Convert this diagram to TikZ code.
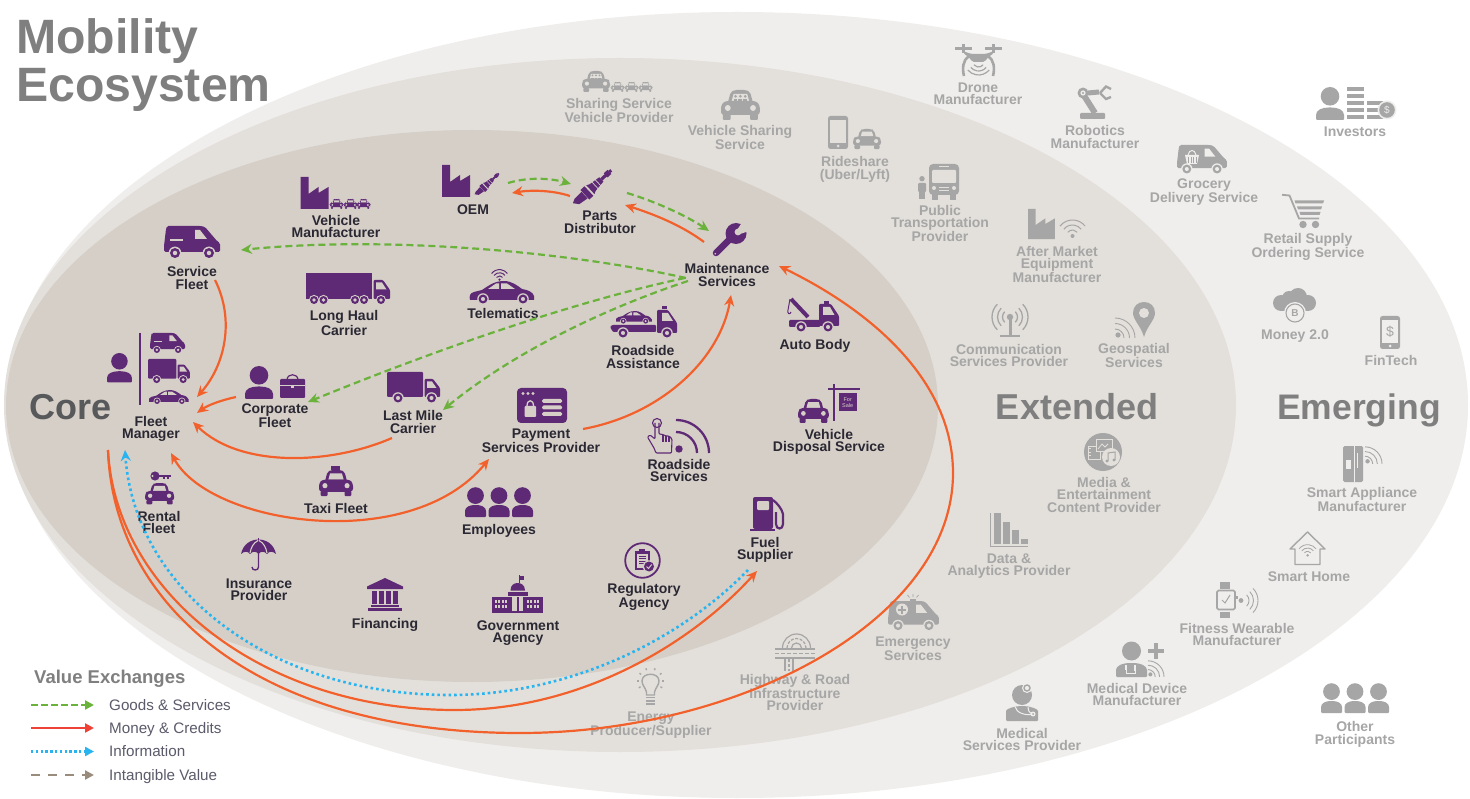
\documentclass[tikz,border=0pt]{standalone}
\usepackage{fontspec}
\setmainfont{Liberation Sans}
\usetikzlibrary{arrows.meta}
\definecolor{purp}{HTML}{5F2A75}
\definecolor{gric}{HTML}{A6A6A6}
\definecolor{outc}{HTML}{EFEEEC}
\definecolor{midc}{HTML}{E3E0DB}
\definecolor{innc}{HTML}{D6CFC8}
\definecolor{labd}{HTML}{2A2833}
\definecolor{orng}{HTML}{F2612B}
\definecolor{grn}{HTML}{6AB23C}
\definecolor{blu}{HTML}{27B4F0}
\definecolor{redl}{HTML}{EF4136}
\definecolor{brn}{HTML}{9A8C7C}
\definecolor{legt}{HTML}{5B5B6B}
\definecolor{ttl}{HTML}{7F7F7F}
\definecolor{cor}{HTML}{58595B}
\colorlet{ic}{purp}
\colorlet{bg}{innc}
\newcommand\whl[3]{\fill[bg] (#1,#2) circle[radius=#3*1.28];\fill[ic] (#1,#2) circle[radius=#3];\fill[bg] (#1,#2) circle[radius=#3*.45];}
\newcommand\arcs[5]{\draw[ic,line width=#5] (#1,#2) ++(#3:#4) arc[start angle=#3,end angle=#3+90,radius=#4];}
\newcommand\vanshape{\fill[ic,rounded corners=1.5] (0,26)--(0,20)--(2,3)--(3,0)--(37,0)--(41,1)--(53,15)--(56,17)--(56,26)--cycle;
 \fill[bg] (31,4)--(36,4)--(43,13)--(31,13)--cycle;\whl{11}{27}{5}\whl{45}{27}{5}}
\newcommand\personshape{\fill[ic] (14,9.3) circle[radius=9.3];\fill[ic,rounded corners=1] (0,33)--(0,29) .. controls (0,23) and (6,20.5) .. (14,20.5) .. controls (22,20.5) and (28,23) .. (28,29)--(28,33)--cycle;}
\newcommand\carshape{\fill[ic,rounded corners=2] (7,13)--(10,2)--(14,0)--(26,0)--(30,2)--(33,13)--cycle;
   \fill[bg] (11,11)--(13,4)--(27,4)--(29,11)--cycle;
   \fill[ic,rounded corners=3] (0,25)--(0,15)--(4,11)--(36,11)--(40,15)--(40,25)--cycle;
   \fill[ic,rounded corners=1] (2,24) rectangle (10,30);\fill[ic,rounded corners=1] (30,24) rectangle (38,30);
   \fill[bg] (7,18) circle[radius=3];\fill[bg] (33,18) circle[radius=3];}
\tikzset{
 x=1pt,y=-1pt,
 lab/.style={font=\bfseries\fontsize{14}{12.5}\selectfont,align=center,inner sep=0pt,text=labd},
 glab/.style={lab,text=gric},
 big/.style={font=\bfseries\fontsize{36}{36}\selectfont,inner sep=0pt,anchor=base},
 legtxt/.style={font=\fontsize{15.2}{15}\selectfont,text=legt,inner sep=0pt,anchor=base west},
 goods/.style={grn,line width=2.2pt,dash pattern=on 7pt off 4pt,-{Stealth[length=11pt,width=10pt]}},
 money/.style={orng,line width=2.2pt,-{Stealth[length=11pt,width=10pt]}},
 info/.style={blu,line width=2.6pt,dash pattern=on 2.6pt off 3pt,-{Stealth[length=11pt,width=10pt]}},
 pics/factory/.style={code={\fill[ic] (0,0)--(8,0)--(8,17)--(18,10)--(18,16)--(28,10)--(28,32)--(0,32)--cycle;}},
 pics/van/.style={code={\vanshape\fill[bg] (6,13) rectangle (19,15);}},
 pics/boxtruck/.style={code={\fill[ic,rounded corners=1] (0,0) rectangle (36,25);
   \fill[ic,rounded corners=1] (37.5,7)--(46,7)--(53,16)--(53,25)--(37.5,25)--cycle;
   \fill[bg] (40,9.5)--(45,9.5)--(49.5,16)--(40,16)--cycle;\whl{11}{26}{4.5}\whl{44.5}{26}{4.5}}},
 pics/longtruck/.style={code={\fill[ic] (0,0) rectangle (66,26);
   \fill[ic,rounded corners=1] (67.5,7)--(77,7)--(84,17)--(84,26)--(67.5,26)--cycle;
   \fill[bg] (70,9.5)--(76,9.5)--(80.5,16.5)--(70,16.5)--cycle;
   \whl{8}{27}{4}\whl{17.5}{27}{4}\whl{49}{27}{4}\whl{58}{27}{4}\whl{75}{27}{4}}},
 pics/sedan/.style={code={\fill[ic] (0,19) .. controls (-1,15) and (0,12) .. (4,11)--(12,9) .. controls (18,5) and (24,0) .. (34,0) .. controls (42,0) and (48,5) .. (52,8) .. controls (58,9) and (63,11) .. (64,15)--(64,19)--cycle;
   \fill[bg] (18,8)--(26,2.5)--(29,2.5)--(29,8)--cycle;\fill[bg] (31,2.5)--(37,2.5)--(45,8)--(31,8)--cycle;\whl{13}{18}{4.5}\whl{53}{18}{4.5}}},
 pics/carf/.style={code={\carshape}},
 pics/carp/.style={code={\carshape
   \foreach \u in {15,20,25}{\fill[ic] (\u,6.3) circle[radius=1.5];\fill[ic] (\u-2,11)--(\u-2,9.5)--(\u+2,9.5)--(\u+2,11)--cycle;}}},
 pics/plug/.style={code={\begin{scope}[shift={(0,33)},rotate=43]
   \fill[ic] (-1,-2)--(3,-4)--(13,-4.5)--(13,4.5)--(3,3)--cycle;
   \fill[ic] (13.5,-6.5) rectangle (19,6.5);
   \fill[ic] (21,-6)--(24,-4.5)--(36,-3)--(36,3)--(24,4.5)--(21,6)--cycle;
   \fill[ic] (36,-1.6) rectangle (45,1.6);\fill[ic] (42,-2.8) rectangle (47,2.8);\fill[ic] (47,-1.5) rectangle (49.5,1.5);
   \foreach \u in {27,31}{\fill[bg] (\u,-5) rectangle (\u+.7,5);}
   \end{scope}}},
 pics/wrench/.style={code={\draw[ic,line width=6.5pt,line cap=round] (4,30)--(20,14);
   \fill[ic] (24,10.5) circle[radius=10.5];\fill[bg] (25,7)--(31,-2)--(37,-2)--(37,8)--(28,11)--cycle;\fill[bg] (26,9) circle[radius=3.4];
   \fill[bg] (3.2,30.8) circle[radius=.9];}},
 pics/person/.style={code={\personshape}},
 pics/briefcase/.style={code={\draw[ic,line width=1.2pt] (7,6) .. controls (7,-1) and (18,-1) .. (18,6);
   \fill[ic,rounded corners=1] (0,5) rectangle (25,24);\fill[bg] (0,11.5) rectangle (25,12.3);\fill[bg] (11,11) rectangle (14,14);}},
 pics/flatbed/.style={code={\pic[scale=.56] at (6,5) {sedan};
   \fill[ic,rounded corners=1] (0,21)--(2,19)--(46,19)--(46,26)--(3,26)--cycle;
   \fill[ic,rounded corners=1] (47,4)--(58,4)--(67,17)--(67,27)--(47,27)--cycle;\fill[ic] (52,0) rectangle (57,3);
   \fill[bg] (52,7)--(58,7)--(63,15)--(52,15)--cycle;\whl{13}{27}{4.5}\whl{57}{27}{4.5}}},
 pics/towtruck/.style={code={\draw[ic,line width=4pt] (4,1)--(21,19);\draw[ic,line width=1pt] (3,1)--(1,12) .. controls (0,16) and (3,17) .. (4,14);
   \fill[ic,rounded corners=1] (32,6)--(44,6)--(52,18)--(52,28)--(32,28)--cycle;\fill[ic] (37,3) rectangle (42,6);\fill[bg] (36,9)--(43,9)--(47.5,17)--(36,17)--cycle;
   \fill[ic,rounded corners=1] (2,22) rectangle (33,29);\whl{14}{29}{4.5}\whl{41}{29}{4.5}}},
 pics/payment/.style={code={\fill[ic,rounded corners=4] (0,0) rectangle (50,35);
   \foreach \u in {6,11,16}{\fill[bg] (\u,5.5) circle[radius=1.6];}
   \fill[bg,rounded corners=1] (7.5,18) rectangle (19,29);\draw[bg,line width=1.3pt] (10,18) .. controls (10,11) and (16.5,11) .. (16.5,18);
   \foreach \u in {11,17.5,24}{\fill[bg,rounded corners=1.5] (25,\u) rectangle (45,\u+4);}}},
 pics/handsig/.style={code={\draw[ic,line width=1.1pt] (10,5) circle[radius=4.5];
   \draw[ic,line width=1.1pt,line join=round,rounded corners=1] (8,5)--(8,21)--(3,17)--(0.5,19)--(7,30)--(9,35)--(24.5,35)--(25,21)--(22,18)--(19,18)--(16,16.5)--(12,16)--(12,5);
   \draw[ic,line width=1.1pt] (16,16.5)--(16,24) (19,18)--(19,24) (22,18)--(22,24);
   \fill[ic] (32,31) circle[radius=3.7];
   \arcs{29}{35}{270}{33}{2.3pt}\arcs{29}{35}{270}{21}{2.3pt}}},
 pics/forsale/.style={code={\fill[ic] (5.2,0) rectangle (7.2,37.5);\fill[ic] (0,4.5) rectangle (32,6.5);\fill[ic] (11,9.5) rectangle (28.5,27.5);
   \node[font=\fontsize{5.5}{6}\selectfont,text=bg,align=center,inner sep=0pt] (forsale) at (19.7,18.5) {For\\Sale};}},
 pics/three/.style={code={\foreach \u in {0,23.5,47}{\begin{scope}[shift={(\u,0)}]\fill[ic] (10.5,8.6) circle[radius=8.4];
   \fill[ic,rounded corners=1] (0,30)--(0,25) .. controls (0,20) and (5,18) .. (10.5,18) .. controls (16,18) and (21,20) .. (21,25)--(21,30)--cycle;\end{scope}}}},
 pics/fuel/.style={code={\fill[ic,rounded corners=2] (3,0)--(23,0)--(23,32)--(3,32)--cycle;\fill[ic] (0,32) rectangle (25,34);
   \fill[bg,rounded corners=1] (7,4) rectangle (19,13);
   \draw[ic,line width=2.2pt] (23,3) .. controls (27,6) and (32,12) .. (33,17)--(33,27) .. controls (33,33) and (26,33) .. (26,27)--(26,15);}},
 pics/umbrella/.style={code={\fill[ic] (0,16) .. controls (2,6) and (10,1.5) .. (17.5,1.5) .. controls (25,1.5) and (33,6) .. (35,16) .. controls (32,13) and (28,13) .. (26,16) .. controls (23,13) and (20,13) .. (17.5,16) .. controls (15,13) and (12,13) .. (9,16) .. controls (7,13) and (3,13) .. (0,16)--cycle;
   \fill[ic] (16.9,0) rectangle (18.1,3);
   \draw[bg,line width=1.1pt] (17,2.5) .. controls (12,5) and (10,10) .. (9,15) (18,2.5) .. controls (23,5) and (25,10) .. (26,15);
   \draw[ic,line width=1.4pt] (17.5,15)--(17.5,29) .. controls (17.5,33) and (11,33) .. (11,29);}},
 pics/bank/.style={code={\fill[ic] (18,0)--(36,8.5)--(36,11)--(0,11)--(0,8.5)--cycle;
   \foreach \u in {5,12,19,26}{\fill[ic] (\u,12.5) rectangle (\u+4.6,26);}
   \fill[ic] (4,27) rectangle (32,29);\fill[ic] (1,30) rectangle (35,33);}},
 pics/gov/.style={code={\fill[ic] (27,0) rectangle (27.8,8);\fill[ic] (27.8,.7) rectangle (32,4.5);
   \fill[ic] (18.5,15.5) .. controls (18.5,10) and (22,8) .. (25.7,8) .. controls (29,8) and (33,10) .. (33,15.5)--cycle;
   \fill[ic] (16,16.5) rectangle (36,20.5);\fill[ic] (0,21.5) rectangle (51,38);
   \foreach \u in {2.5,6,9.5,13,34.5,38,41.5,45}{\foreach \v in {24.5,30}{\fill[bg] (\u,\v) rectangle (\u+2,\v+3);}}
   \fill[bg] (20,22) rectangle (25,36);\fill[bg] (27,22) rectangle (31,36);}},
 pics/reg/.style={code={\draw[ic,line width=1.8pt] (18,18) circle[radius=17.3];
   \fill[ic] (10,8) rectangle (25,27);\fill[bg] (12,11) rectangle (23,25);\fill[ic] (14.5,6) rectangle (20.5,10);
   \foreach \u in {13,15.5,18,20.5}{\fill[ic] (14,\u) rectangle (21,\u+1);}
   \fill[bg] (24.5,24) circle[radius=6.2];\fill[ic] (24.5,24) circle[radius=5];\draw[bg,line width=1pt] (22,24)--(24,26)--(27.2,22);}},
 pics/phone/.style={code={\fill[ic,rounded corners=2.5] (0,0) rectangle (20,33);\fill[bg] (2,4) rectangle (18,27);\fill[bg] (10,30) circle[radius=1.5];}},
 pics/bus/.style={code={\fill[ic] (3,28) rectangle (9,36);\fill[ic] (21,28) rectangle (27,36);\fill[ic,rounded corners=4] (0,0) rectangle (30,31);
   \fill[bg,rounded corners=1] (3,6) rectangle (27,19);\fill[bg] (10,2) rectangle (20,3.5);\fill[bg] (5,24) circle[radius=2];\fill[bg] (25,24) circle[radius=2];\fill[bg] (10,23) rectangle (20,24);\fill[bg] (10,26) rectangle (20,27);}},
 pics/minip/.style={code={\fill[ic] (4,2.7) circle[radius=2.7];\fill[ic,rounded corners=1] (0,7) rectangle (8,16);\fill[ic] (1.2,15) rectangle (6.8,23);}},
 pics/wifi/.style={code={\fill[ic] (13.5,17) circle[radius=2];\foreach \r in {6,11,16}{\draw[ic,line width=1pt] (13.5,17) ++(218:\r) arc[start angle=218,end angle=322,radius=\r];}}},
 pics/sig/.style={code={\fill[ic] (3,18) circle[radius=2.6];\arcs{0}{21}{270}{9}{.9pt}\arcs{0}{21}{270}{14.5}{.9pt}\arcs{0}{21}{270}{20}{.9pt}}},
 pics/antenna/.style={code={\fill[ic] (16.5,15) rectangle (19.5,33);\fill[ic] (18,15) circle[radius=3.2];\fill[ic] (8,33) rectangle (28,35.5);
   \foreach \r in {7.5,12.5,18}{\draw[ic,line width=1.3pt] (18,15) ++(-45:\r) arc[start angle=-45,end angle=45,radius=\r];\draw[ic,line width=1.3pt] (18,15) ++(135:\r) arc[start angle=135,end angle=225,radius=\r];}}},
 pics/pin/.style={code={\fill[ic] (11,35) .. controls (8,24) and (0,18) .. (0,11) .. controls (0,4) and (5,0) .. (11,0) .. controls (17,0) and (22,4) .. (22,11) .. controls (22,18) and (14,24) .. (11,35)--cycle;\fill[bg] (11,11) circle[radius=5];}},
 pics/media/.style={code={\fill[ic] (19,19) circle[radius=19];
   \draw[bg,line width=.9pt] (4,13) rectangle (16,26);\foreach \u in {15.5,19,22.5}{\draw[bg,line width=.7pt] (4,\u)--(7,\u);}
   \fill[ic] (12,6) rectangle (28,18);\draw[bg,line width=1pt] (12,6) rectangle (28,18);\draw[bg,line width=.8pt] (14,16)--(18,11)--(21,14)--(24,11);
   \fill[bg] (27,24) circle[radius=9];\draw[ic,line width=1pt] (24,28)--(24,20)--(31,19)--(31,27);\fill[ic] (23,28) circle[radius=1.7];\fill[ic] (30,27) circle[radius=1.7];}},
 pics/bars/.style={code={\fill[ic] (4,0) rectangle (11,31);\fill[ic] (13,9) rectangle (20,31);\fill[ic] (22,17) rectangle (28.5,31);\fill[ic] (31,26) rectangle (38,31);\fill[ic] (0,0) rectangle (1,34);\fill[ic] (0,33) rectangle (38,34);}},
 pics/ambulance/.style={code={\begin{scope}[shift={(0,8)},scale=.91]\vanshape\end{scope}
   \fill[bg] (14,16.5) circle[radius=6];\fill[ic] (13,12.5) rectangle (15,20.5);\fill[ic] (10,15.5) rectangle (18,17.5);
   \fill[ic] (22,5.5) rectangle (28,8);\draw[ic,line width=.7pt] (25,4)--(25,1) (21.5,4.5)--(19.5,2) (28.5,4.5)--(30.5,2);}},
 pics/highway/.style={code={\draw[ic,line width=1.2pt] (21.5,15) ++(180:14) arc[start angle=180,end angle=360,radius=14];
   \draw[ic,line width=1.2pt,dash pattern=on 3pt off 1.5pt] (21.5,15) ++(180:9.5) arc[start angle=180,end angle=360,radius=9.5];
   \draw[ic,line width=1.2pt] (21.5,15) ++(180:5) arc[start angle=180,end angle=360,radius=5];
   \draw[ic,line width=1.2pt] (0,16)--(40,16) (0,25)--(40,25);\draw[ic,line width=1.2pt,dash pattern=on 4pt off 2pt] (0,20.5)--(40,20.5);
   \draw[ic,line width=1.2pt] (10,26)--(10,38) (18,26)--(18,38);\draw[ic,line width=1.2pt,dash pattern=on 3pt off 2pt] (14,26)--(14,38);}},
 pics/bulb/.style={code={\draw[ic,line width=1.4pt] (9.5,24) .. controls (8,19) and (5,17) .. (5,13) .. controls (5,4) and (22,4) .. (22,13) .. controls (22,17) and (19,19) .. (17.5,24)--(17.5,27)--(9.5,27)--cycle;
   \foreach \u in {28.8,32,35.2}{\fill[ic] (9,\u) rectangle (18,\u+1.5);}
   \foreach \a in {180,215,250,290,325,360}{\draw[ic,line width=1.4pt] (13.5,13) ++(\a:11.5) -- ++(\a:2);}
   \draw[ic,line width=1.4pt] (13.5,13) ++(150:11.5) -- ++(150:2) (13.5,13) ++(30:11.5) -- ++(30:2);}},
 pics/drone/.style={code={\fill[ic] (0,4) rectangle (17,7);\fill[ic] (30,4) rectangle (47,7);\fill[ic] (7,1) rectangle (10,10);\fill[ic] (37,1) rectangle (40,10);
   \fill[ic,rounded corners=2] (8,8)--(16,11)--(31,11)--(39,8)--(39,10)--(32,15)--(30,19)--(17,19)--(15,15)--(8,10)--cycle;
   \draw[ic,line width=2.6pt] (14,13) .. controls (8,17) and (7,25) .. (9,33) (33,13) .. controls (39,17) and (40,25) .. (38,33);
   \foreach \r in {6,10,14}{\draw[ic,line width=1.2pt] (23.5,18) ++(40:\r) arc[start angle=40,end angle=140,radius=\r];}}},
 pics/robot/.style={code={\fill[ic,rounded corners=1] (2,28) rectangle (27,34);\draw[ic,line width=6pt] (5,9)--(17,28);
   \fill[ic] (5,8) circle[radius=5.5];\fill[bg] (5,8) circle[radius=2.6];\fill[ic] (5,8) circle[radius=1.2];
   \draw[ic,line width=5pt] (10,8)--(21,7);
   \draw[ic,line width=2.4pt] (22,8)--(28,1.5)--(33,4) (22,8)--(28,14)--(33,12);}},
 pics/grocery/.style={code={\begin{scope}[scale=.89]\vanshape\end{scope}
   \fill[bg] (8,10)--(22,10)--(20,19)--(10,19)--cycle;\draw[bg,line width=1pt] (11,10) .. controls (12,4) and (18,4) .. (19,10);
   \foreach \u in {11.5,14,16.5,19}{\draw[ic,line width=.6pt] (\u,12)--(\u,18);}}},
 pics/cart/.style={code={\draw[ic,line width=1.8pt] (0,.8)--(7.5,1.5)--(17,24.5)--(37,24.5);
   \fill[ic] (12.5,6.5)--(42,6.5)--(41,9.5)--(13.5,9.5)--cycle;\fill[ic] (15,12.5)--(40,12.5)--(39,15.5)--(16,15.5)--cycle;\fill[ic] (17.5,18)--(38.5,18)--(37.5,21)--(18.5,21)--cycle;
   \fill[ic] (21,30.5) circle[radius=3.7];\fill[ic] (33.5,30.5) circle[radius=3.7];}},
 pics/stacks/.style={code={\foreach \u in {0,7,14,21,28}{\fill[ic] (0,\u) rectangle (17,\u+4.5);}\foreach \u in {14,21,28}{\fill[ic] (20,\u) rectangle (36,\u+4.5);}
   \fill[bg] (40,23) circle[radius=9.5];\fill[ic] (40,23) circle[radius=7.8];
   \node[font=\fontsize{10}{10}\selectfont,text=bg,inner sep=0pt] (dollar) at (40,23) {\$};}},
 pics/cloud/.style={code={\fill[ic] (8,15) circle[radius=8];\fill[ic] (16,10) circle[radius=7];\fill[ic] (25,9) circle[radius=9];\fill[ic] (35,15) circle[radius=8];\fill[ic] (8,13) rectangle (35,23);
   \fill[bg] (22,25) circle[radius=11];\draw[ic,line width=1.1pt] (22,25) circle[radius=9];
   \node[font=\bfseries\fontsize{10}{10}\selectfont,text=ic,inner sep=0pt] (btc) at (22,25) {B};}},
 pics/fintel/.style={code={\pic {phone};\node[font=\fontsize{14}{14}\selectfont,text=ic,inner sep=0pt] (fdollar) at (10,15.5) {\$};}},
 pics/fridge/.style={code={\fill[ic,rounded corners=1.5] (0,0) rectangle (20,36);\fill[bg] (11,0) rectangle (11.8,36);\fill[bg] (3,14) rectangle (8,23);\fill[bg] (13.5,7) rectangle (14.3,22);}},
 pics/home/.style={code={\draw[ic,line width=1.4pt,line join=round] (5,33.5)--(30,33.5)--(30,18)--(35,18)--(17.5,1)--(0,18)--(5,18)--cycle;
   \begin{scope}[shift={(8.5,13)},scale=.67]\fill[ic] (13.5,17) circle[radius=2];\foreach \r in {6,11,16}{\draw[ic,line width=.8pt] (13.5,17) ++(218:\r) arc[start angle=218,end angle=322,radius=\r];}\end{scope}}},
 pics/watch/.style={code={\fill[ic] (4,0) rectangle (14,7);\fill[ic] (4,30) rectangle (14,36);\draw[ic,line width=1.7pt,rounded corners=1.5] (1,8.5) rectangle (19,27.5);\fill[ic] (20,13.5) rectangle (22,17);
   \draw[ic,line width=1pt] (6,18)--(9,21)--(14,13);\fill[ic] (25,18.5) circle[radius=2.4];
   \foreach \r in {8,12.5,17}{\draw[ic,line width=.9pt] (25,18.5) ++(-45:\r) arc[start angle=-45,end angle=45,radius=\r];}}},
 pics/doctor/.style={code={\fill[ic] (15.5,9) circle[radius=9.5];\fill[ic,rounded corners=1] (0,35)--(0,29) .. controls (0,24) and (6,21) .. (15.5,21) .. controls (25,21) and (31,24) .. (31,29)--(31,35)--cycle;
   \fill[bg] (9,23) rectangle (11,28);\fill[bg] (18,23) rectangle (20,29);\draw[bg,line width=.7pt] (10,28)--(10,31)--(19,31)--(19,29);}},
 pics/medic/.style={code={\fill[ic] (16,12) circle[radius=10];\fill[bg] (21,5) circle[radius=5];\draw[ic,line width=1.4pt] (21,5) circle[radius=3];
   \fill[ic,rounded corners=1] (0,38)--(0,29) .. controls (0,26) and (8,23) .. (16,23) .. controls (24,23) and (32,26) .. (32,29)--(32,38)--cycle;
   \draw[bg,line width=1pt] (9,23.5) .. controls (10,30) and (20,33) .. (27,31) (22,24) .. controls (22,27) and (22,29) .. (27,31);\fill[bg] (27,31) circle[radius=2.5];\fill[ic] (27,31) circle[radius=1];}},
 pics/keyic/.style={code={\fill[ic] (6,5) circle[radius=4.6];\fill[bg] (3.5,5) circle[radius=1.2];\fill[ic] (8,3.7) rectangle (22,6);\fill[ic] (14,5) rectangle (16,8);\fill[ic] (18,5) rectangle (20,8);}},
 pics/plus/.style={code={\fill[ic] (6,0) rectangle (9.5,15.5);\fill[ic] (0,6) rectangle (15.5,9.5);}},
}
\begin{document}
\begin{tikzpicture}
\useasboundingbox (0,0) rectangle (1470,799);
\fill[white] (0,0) rectangle (1470,799);
\fill[outc] (737,405) ellipse[x radius=731,y radius=393];
\fill[midc] (620,405) ellipse[x radius=616,y radius=347];
\fill[innc] (472,406) ellipse[x radius=466,y radius=276];

\node[font=\bfseries\fontsize{48.2}{48}\selectfont,text=ttl,inner sep=0pt,align=left,anchor=north west] (title) at (16,18.5) {Mobility\\Ecosystem};
\node[big,text=cor] (core) at (71,420) {Core};
\node[big,text=ttl] (extended) at (1077,420) {Extended};
\node[big,text=ttl,font=\bfseries\fontsize{35.5}{36}\selectfont] (emerging) at (1359,420) {Emerging};

% ---- core icons
\pic at (164,226) {van};
\pic at (300.5,177) {factory};
\foreach \u in {330,344,357}{\pic[scale=.33] at (\u,199) {carf};}
\pic at (442,165) {factory};
\pic[scale=.63] at (476,174) {plug};
\pic at (575,171) {plug};
\pic at (712,223) {wrench};
\pic at (306,273) {longtruck};
\pic at (470,281) {sedan};
\pic[scale=.63] at (491,269) {wifi};
\pic at (610,306) {flatbed};
\pic at (787,298) {towtruck};
\pic[scale=.89] at (107,353) {person};
\fill[purp] (139,333) rectangle (141.2,405);
\pic[scale=.625] at (150,333) {van};
\pic[scale=.79] at (148,359) {boxtruck};
\pic[scale=.62] at (149,390) {sedan};
\pic at (245,366) {person};
\pic at (280,374) {briefcase};
\pic at (387,372) {boxtruck};
\pic at (517,388) {payment};
\pic at (647,418) {handsig};
\pic[xscale=.77,yscale=.8] at (798,399) {carf};
\pic at (828,384) {forsale};
\fill[purp] (331,465.5) rectangle (340,470);
\pic[xscale=.85,yscale=.87] at (319,470) {carf};
\pic at (149,471) {keyic};
\pic[xscale=.73,yscale=.71] at (145,483) {carf};
\pic at (465,487) {three};
\pic at (750,497) {fuel};
\pic at (241,538) {umbrella};
\pic at (367,578) {bank};
\pic at (492,575) {gov};
\pic at (624.5,542.5) {reg};

% ---- extended icons
\begin{scope}
\colorlet{ic}{gric}\colorlet{bg}{midc}
\pic[xscale=.7,yscale=.7] at (582,71) {carp};
\foreach \u in {611,625,639}{\pic[scale=.33] at (\u,82) {carf};}
\pic[xscale=.97] at (721,90) {carp};
\pic at (828,116) {phone};
\pic[xscale=.7,yscale=.67] at (853,129) {carf};
\pic at (918,176) {minip};
\pic at (929,164) {bus};
\pic[xscale=.96,yscale=.94] at (1028,209) {factory};
\pic at (1059,219) {wifi};
\pic at (992,302) {antenna};
\pic at (1115,317) {sig};
\pic at (1133,302) {pin};
\pic at (1084,433) {media};
\pic at (990,513) {bars};
\pic at (888,593) {ambulance};
\pic at (775,633) {highway};
\pic at (637,668) {bulb};
\end{scope}

% ---- emerging icons
\begin{scope}
\colorlet{ic}{gric}\colorlet{bg}{outc}
\pic at (955,43) {drone};
\pic at (1078,85) {robot};
\pic at (1177,145) {grocery};
\pic at (1282,194) {cart};
\pic at (1316,87) {person};
\pic at (1347,87) {stacks};
\pic at (1273,288) {cloud};
\pic at (1380,316) {fintel};
\pic at (1343,446) {fridge};
\pic[scale=.85] at (1365,446) {sig};
\pic at (1290,531) {home};
\pic at (1216,582) {watch};
\pic at (1116,642) {doctor};
\pic at (1148,643) {plus};
\pic[scale=.8] at (1148,660) {sig};
\pic at (1006,683) {medic};
\end{scope}
\begin{scope}
\colorlet{ic}{gric}\colorlet{bg}{white}
\pic at (1321,683) {three};
\end{scope}

% ---- core labels
\node[lab] (sfleet) at (192,278) {Service\\Fleet};
\node[lab] (vman) at (336,226.5) {Vehicle\\Manufacturer};
\node[lab] (oem) at (473,210) {OEM};
\node[lab] (parts) at (600,222.5) {Parts\\Distributor};
\node[lab] (maint) at (727,275) {Maintenance\\Services};
\node[lab] (lhaul) at (344,323) {Long Haul\\Carrier};
\node[lab] (telem) at (503,313) {Telematics};
\node[lab] (rassist) at (643,357) {Roadside\\Assistance};
\node[lab] (abody) at (815,346) {Auto Body};
\node[lab] (fmgr) at (151,429) {Fleet\\Manager};
\node[lab] (cfleet) at (275,416) {Corporate\\Fleet};
\node[lab] (lmile) at (413,422) {Last Mile\\Carrier};
\node[lab] (payp) at (541,441) {Payment\\Services Provider};
\node[lab] (vdisp) at (829,442) {Vehicle\\Disposal Service};
\node[lab] (rserv) at (679,470.5) {Roadside\\Services};
\node[lab] (taxi) at (336,508) {Taxi Fleet};
\node[lab] (rental) at (159,522.5) {Rental\\Fleet};
\node[lab] (empl) at (499,531) {Employees};
\node[lab] (fuels) at (765,550) {Fuel\\Supplier};
\node[lab] (insur) at (259,590) {Insurance\\Provider};
\node[lab] (finan) at (385,625) {Financing};
\node[lab] (govag) at (518,633) {Government\\Agency};
\node[lab] (regag) at (644,597) {Regulatory\\Agency};

% ---- extended labels
\node[glab] (sharev) at (619,110.5) {Sharing Service\\Vehicle Provider};
\node[glab] (vshare) at (740,137.5) {Vehicle Sharing\\Service};
\node[glab] (rides) at (855,169.5) {Rideshare\\(Uber/Lyft)};
\node[glab] (publ) at (940,223.5) {Public\\Transportation\\Provider};
\node[glab] (after) at (1057,264.5) {After Market\\Equipment\\Manufacturer};
\node[glab] (commu) at (1009,355.5) {Communication\\Services Provider};
\node[glab] (geosp) at (1134,355.5) {Geospatial\\Services};
\node[glab] (medent) at (1104,494.5) {Media \&\\Entertainment\\Content Provider};
\node[glab] (dataa) at (1009,566) {Data \&\\Analytics Provider};
\node[glab] (emerg) at (913,649) {Emergency\\Services};
\node[glab] (highw) at (795,692.5) {Highway \& Road\\Infrastructure\\Provider};
\node[glab] (energ) at (651,725.5) {Energy\\Producer/Supplier};

% ---- emerging labels
\node[glab] (drone) at (978,94) {Drone\\Manufacturer};
\node[glab] (robot) at (1095,137) {Robotics\\Manufacturer};
\node[glab] (groc) at (1204,192) {Grocery\\Delivery Service};
\node[glab] (retail) at (1308,247) {Retail Supply\\Ordering Service};
\node[glab] (invest) at (1355,132) {Investors};
\node[glab] (money) at (1295,336) {Money 2.0};
\node[glab] (fint) at (1391,360) {FinTech};
\node[glab] (smapp) at (1362,499.5) {Smart Appliance\\Manufacturer};
\node[glab] (smhome) at (1309,577) {Smart Home};
\node[glab] (fitn) at (1237,634.5) {Fitness Wearable\\Manufacturer};
\node[glab] (meddev) at (1137,694.5) {Medical Device\\Manufacturer};
\node[glab] (medser) at (1022,739.5) {Medical\\Services Provider};
\node[glab] (other) at (1355,734.5) {Other\\Participants};

% ---- connector ends
\coordinate (oemG) at (508,183); \coordinate (partsG) at (571,184);
\coordinate (partsO) at (570,196); \coordinate (oemO) at (512,193);
\coordinate (partsG2) at (627,193); \coordinate (maintG) at (709,231);
\coordinate (maintO) at (704,242); \coordinate (partsO2) at (625,205);
\coordinate (maintA) at (686,278); \coordinate (sfleetG) at (241,250);
\coordinate (maintB) at (685,278); \coordinate (cfleetG) at (308,402);
\coordinate (maintC) at (688,281); \coordinate (lmileG) at (443,410);
\coordinate (sfleetO) at (215,280); \coordinate (fmgrA) at (197,397);
\coordinate (cfleetO) at (236,397); \coordinate (fmgrB) at (197,413);
\coordinate (lmileO) at (392,438); \coordinate (fmgrC) at (193,422);
\coordinate (fmgrD) at (171,453); \coordinate (paypA) at (489,459);
\coordinate (paypB) at (583,429); \coordinate (maintD) at (731,295);
\coordinate (fmgrE) at (108,450); \coordinate (maintE) at (779,266);
\coordinate (fuelA) at (757,571); \coordinate (fuelB) at (748,570);
\coordinate (fmgrF) at (125,450);

% ---- connectors
\draw[goods] (oemG) .. controls (528,177) and (550,178) .. (partsG);
\draw[goods] (partsG2) .. controls (660,203) and (690,218) .. (maintG);
\draw[goods] (maintA) .. controls (560,250) and (380,236) .. (sfleetG);
\draw[goods] (maintB) .. controls (590,298) and (460,340) .. (cfleetG);
\draw[goods] (maintC) .. controls (600,310) and (510,355) .. (lmileG);
\draw[money] (partsO) .. controls (552,190) and (530,190) .. (oemO);
\draw[money] (maintO) .. controls (680,224) and (650,213) .. (partsO2);
\draw[money] (sfleetO) .. controls (235,320) and (225,365) .. (fmgrA);
\draw[money] (cfleetO) .. controls (222,400) and (208,405) .. (fmgrB);
\draw[money] (lmileO) .. controls (330,465) and (240,468) .. (fmgrC);
\draw[money,{Stealth[length=11pt,width=10pt]}-{Stealth[length=11pt,width=10pt]}] (fmgrD) .. controls (210,525) and (410,555) .. (paypA);
\draw[money] (paypB) .. controls (660,415) and (720,360) .. (maintD);
\draw[money] (fmgrE) .. controls (113,600) and (250,733) .. (520,733) .. controls (740,733) and (953,620) .. (953,473) .. controls (953,380) and (870,310) .. (maintE);
\draw[money] (fmgrE) .. controls (115,590) and (260,710) .. (455,710) .. controls (580,710) and (690,645) .. (fuelA);
\draw[info] (fuelB) .. controls (680,640) and (570,695) .. (450,695) .. controls (270,695) and (135,590) .. (fmgrF);

% ---- legend
\node[font=\bfseries\fontsize{18.5}{19}\selectfont,text=ttl,inner sep=0pt,anchor=west] (legend) at (34,679) {Value Exchanges};
\node[legtxt] (lg1) at (109,710) {Goods \& Services};
\node[legtxt] (lg2) at (109,733) {Money \& Credits};
\node[legtxt] (lg3) at (109,756) {Information};
\node[legtxt] (lg4) at (109,780) {Intangible Value};
\coordinate (s1) at (31,705); \coordinate (s2) at (31,728); \coordinate (s3) at (31,751.5); \coordinate (s4) at (31,775);
\coordinate (e1) at (94,705); \coordinate (e2) at (94,728); \coordinate (e3) at (94,751.5); \coordinate (e4) at (94,775);
\draw[grn,line width=2.2pt,dash pattern=on 7pt off 3pt,-{Triangle[length=9pt,width=9pt]}] (s1)--(e1);
\draw[redl,line width=2.2pt,-{Triangle[length=9pt,width=9pt]}] (s2)--(e2);
\draw[blu,line width=2.2pt,dash pattern=on 2.4pt off 2.4pt,-{Triangle[length=9pt,width=9pt]}] (s3)--(e3);
\draw[brn,line width=2.2pt,dash pattern=on 9pt off 8pt,-{Triangle[length=9pt,width=9pt]}] (s4)--(e4);
\end{tikzpicture}
\end{document}
